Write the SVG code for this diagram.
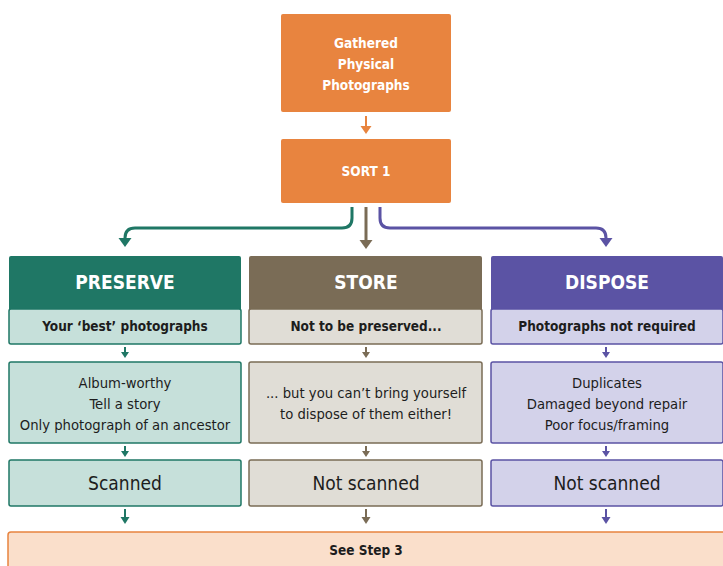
<svg xmlns="http://www.w3.org/2000/svg" width="723" height="566" viewBox="0 0 723 566">
<style>
text{font-family:"Liberation Sans Narrow","DejaVu Sans Condensed","Roboto",sans-serif;text-anchor:middle}
.w{fill:#fff;font-weight:bold;font-size:13.5px}
.h{fill:#fff;font-weight:bold;font-size:19px}
.s{fill:#1d1d1d;font-weight:bold;font-size:13.5px}
.b{fill:#1d1d1d;font-size:14.7px}
.l{fill:#1d1d1d;font-size:19px}
.or{fill:#E8843F}
.g{fill:#1F7765}.gl{fill:#C6E0DA;stroke:#1F7765;stroke-width:1.5}
.br{fill:#7A6C56}.brl{fill:#E0DDD6;stroke:#7A6C56;stroke-width:1.5}
.p{fill:#5B53A4}.pl{fill:#D3D2EA;stroke:#5B53A4;stroke-width:1.5}
.c{fill:none;stroke-width:3}
.cs{fill:none;stroke-width:2}
</style>
<g id="gathered"><rect class="or" x="281" y="14" width="170" height="98" rx="2"/>
<text class="w" x="366" y="48">Gathered</text><text class="w" x="366" y="69">Physical</text><text class="w" x="366" y="90">Photographs</text></g>
<g id="sort1"><rect class="or" x="281" y="139" width="170" height="64" rx="2"/><text class="w" x="366" y="176">SORT 1</text></g>

<g id="connectors">
<path d="M366 116V127" stroke="#E8843F" stroke-width="2" fill="none"/><path d="M360.5 126L366 134L371.5 126Z" fill="#E8843F"/>
<path class="c" stroke="#1F7765" d="M352 207V218Q352 228 342 228H135Q125 228 125 238V240"/><path d="M118.5 238L125 247L131.5 238Z" fill="#1F7765"/>
<path class="c" stroke="#7A6C56" d="M366 207V242"/><path d="M359.5 240L366 249L372.5 240Z" fill="#7A6C56"/>
<path class="c" stroke="#5B53A4" d="M380 207V218Q380 228 390 228H596Q606 228 606 238V240"/><path d="M599.5 238L606 247L612.5 238Z" fill="#5B53A4"/>
<g fill="#1F7765" stroke="#1F7765">
<path class="cs" d="M125 347V353"/><path d="M121 352L125 358L129 352Z" stroke="none"/>
<path class="cs" d="M125 446V452"/><path d="M121 451L125 457L129 451Z" stroke="none"/>
<path class="cs" d="M125 509V518"/><path d="M120.5 517L125 524L129.5 517Z" stroke="none"/>
</g>
<g fill="#7A6C56" stroke="#7A6C56">
<path class="cs" d="M366 347V353"/><path d="M362 352L366 358L370 352Z" stroke="none"/>
<path class="cs" d="M366 446V452"/><path d="M362 451L366 457L370 451Z" stroke="none"/>
<path class="cs" d="M366 509V518"/><path d="M361.5 517L366 524L370.5 517Z" stroke="none"/>
</g>
<g fill="#5B53A4" stroke="#5B53A4">
<path class="cs" d="M606 347V353"/><path d="M602 352L606 358L610 352Z" stroke="none"/>
<path class="cs" d="M606 446V452"/><path d="M602 451L606 457L610 451Z" stroke="none"/>
<path class="cs" d="M606 509V518"/><path d="M601.5 517L606 524L610.5 517Z" stroke="none"/>
</g>
</g>

<g id="preserve"><rect class="g" x="9" y="256" width="232" height="55" rx="2"/><text class="h" x="125" y="289">PRESERVE</text></g>
<g id="preserve-sub"><rect class="gl" x="9" y="309" width="232" height="35" rx="2"/><text class="s" x="125" y="331">Your ‘best’ photographs</text></g>
<g id="preserve-list"><rect class="gl" x="9" y="362" width="232" height="81" rx="2"/>
<text class="b" x="125" y="388">Album-worthy</text><text class="b" x="125" y="409">Tell a story</text><text class="b" x="125" y="430">Only photograph of an ancestor</text></g>
<g id="scanned"><rect class="gl" x="9" y="460" width="232" height="46" rx="2"/><text class="l" x="125" y="490">Scanned</text></g>

<g id="store"><rect class="br" x="249" y="256" width="233" height="55" rx="2"/><text class="h" x="366" y="289">STORE</text></g>
<g id="store-sub"><rect class="brl" x="249" y="309" width="233" height="35" rx="2"/><text class="s" x="366" y="331">Not to be preserved...</text></g>
<g id="store-list"><rect class="brl" x="249" y="362" width="233" height="81" rx="2"/>
<text class="b" x="366" y="398">... but you can’t bring yourself</text><text class="b" x="366" y="419">to dispose of them either!</text></g>
<g id="store-scan"><rect class="brl" x="249" y="460" width="233" height="46" rx="2"/><text class="l" x="366" y="490">Not scanned</text></g>

<g id="dispose"><rect class="p" x="491" y="256" width="232" height="55" rx="2"/><text class="h" x="607" y="289">DISPOSE</text></g>
<g id="dispose-sub"><rect class="pl" x="491" y="309" width="232" height="35" rx="2"/><text class="s" x="607" y="331">Photographs not required</text></g>
<g id="dispose-list"><rect class="pl" x="491" y="362" width="232" height="81" rx="2"/>
<text class="b" x="607" y="388">Duplicates</text><text class="b" x="607" y="409">Damaged beyond repair</text><text class="b" x="607" y="430">Poor focus/framing</text></g>
<g id="dispose-scan"><rect class="pl" x="491" y="460" width="232" height="46" rx="2"/><text class="l" x="607" y="490">Not scanned</text></g>

<g id="step3"><rect x="8" y="532" width="720" height="40" rx="3" fill="#FADFCB" stroke="#E8843F" stroke-width="1.5"/><text class="s" x="366" y="555">See Step 3</text></g>
</svg>
